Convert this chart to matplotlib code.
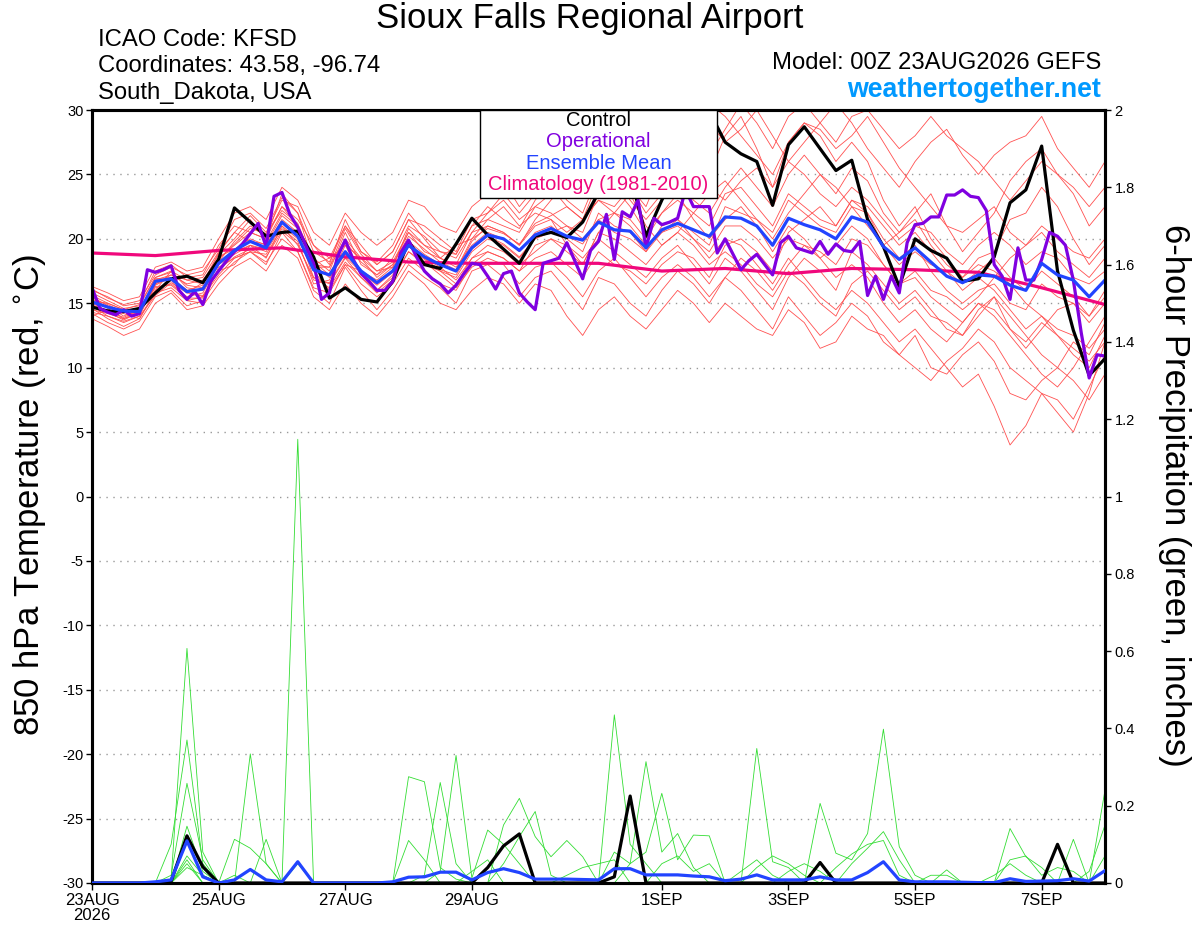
import numpy as np
import matplotlib
matplotlib.use('Agg')
import matplotlib.pyplot as plt
from matplotlib.patches import Rectangle

plt.rcParams['font.family'] = ['Liberation Sans', 'DejaVu Sans']
plt.rcParams['axes.unicode_minus'] = False

# forecast hours (6-hourly ensemble, 3-hourly operational, daily climatology)
hours = np.arange(0, 385, 6)
op_hours = np.arange(0, 385, 3)
clim_hours = np.arange(0, 385, 24)

# control run 850 hPa temperature
control_t = [14.7, 14.4, 14.35, 14.6, 15.8, 16.9, 17.1, 16.6, 18.4, 22.4, 21.3, 20.2, 20.5,
             20.6, 18.6, 15.4, 16.2, 15.3, 15.1, 16.7, 19.8, 18.0, 17.7, 19.6, 21.6, 20.3,
             19.2, 18.1, 20.2, 20.5, 20.1, 21.3, 23.6, 26.0, 25.0, 20.2, 23.0, 25.5, 28.0,
             29.9, 27.5, 26.6, 26.0, 22.6, 27.3, 28.7, 27.0, 25.3, 26.1, 21.5, 19.4, 16.3,
             20.0, 19.1, 18.5, 16.7, 16.9, 18.6, 22.8, 23.8, 27.2, 17.5, 12.9, 9.4, 10.7]

# ensemble mean 850 hPa temperature
mean_t = [15.1, 14.7, 14.4, 14.35, 16.7, 16.9, 15.9, 16.1, 18.1, 19.1, 19.8, 19.3, 21.3,
          20.2, 17.6, 17.2, 19.0, 17.5, 16.6, 17.5, 19.5, 18.6, 18.0, 17.5, 19.3, 20.3,
          20.0, 19.1, 20.3, 20.8, 20.2, 19.9, 21.3, 20.7, 20.6, 19.3, 20.7, 21.2, 20.7,
          20.2, 21.7, 21.6, 21.0, 19.5, 21.6, 21.1, 20.7, 20.0, 21.7, 21.3, 19.4, 18.4,
          19.3, 18.2, 17.1, 16.6, 17.2, 17.1, 16.4, 16.0, 18.1, 17.2, 16.8, 15.5, 16.8]

# operational run (3-hourly)
oper_t = [16.2, 14.6, 14.3, 14.1, 14.5, 14.0, 14.2, 17.6, 17.4, 17.6, 17.9, 16.0, 15.3,
          15.9, 14.9, 16.7, 17.5, 18.3, 19.0, 19.6, 20.4, 21.2, 19.4, 23.3, 23.6, 21.9,
          20.9, 19.5, 18.1, 15.3, 15.8, 18.6, 19.9, 18.4, 17.3, 16.7, 16.0, 16.0, 16.7,
          18.9, 19.9, 18.6, 17.5, 16.9, 16.5, 15.8, 16.4, 17.3, 18.1, 18.0, 17.1, 16.1,
          17.3, 17.5, 15.8, 15.1, 14.5, 18.1, 18.3, 18.5, 19.7, 18.3, 16.9, 19.1, 19.8,
          21.9, 18.4, 22.1, 21.7, 23.0, 19.3, 21.6, 21.1, 21.3, 21.6, 23.8, 22.5, 22.5,
          22.5, 18.9, 20.0, 18.8, 17.6, 18.3, 18.8, 18.0, 17.2, 19.7, 20.2, 19.3, 19.1,
          18.9, 19.8, 18.8, 19.6, 19.1, 19.0, 19.8, 15.6, 17.1, 15.3, 17.1, 15.8, 19.7,
          21.1, 21.2, 21.7, 21.7, 23.4, 23.4, 23.8, 23.3, 23.2, 22.2, 18.0, 17.1, 15.3,
          19.3, 16.8, 16.8, 18.4, 20.5, 20.2, 19.5, 16.8, 12.7, 9.2, 11.0, 10.9]

# climatology (1981-2010), daily
clim_t = [18.9, 18.7, 19.1, 19.3, 18.6, 18.2, 18.1, 18.1, 18.1, 17.5, 17.7, 17.3, 17.7,
          17.6, 17.4, 16.2, 14.9]

# ensemble members 850 hPa temperature
members_t = [
    [15.5, 14.8, 14.0, 14.6, 16.0, 17.5, 16.8, 16.5, 18.8, 20.0, 21.5, 19.8, 22.0, 21.0, 18.5, 17.5,
     20.5, 18.0, 17.2, 18.5, 21.0, 20.2, 19.0, 18.8, 21.0, 22.5, 21.5, 20.8, 23.0, 24.5, 23.0, 22.0,
     25.0, 26.5, 24.0, 22.5, 25.5, 27.0, 26.0, 25.0, 28.0, 29.5, 27.0, 24.0, 27.5, 29.0, 28.0, 26.0,
     27.5, 26.0, 23.0, 21.0, 22.5, 20.0, 18.5, 17.0, 18.5, 19.0, 21.5, 22.0, 24.0, 22.5, 20.0, 18.0, 19.5],
    [14.2, 13.5, 13.0, 13.6, 15.5, 16.0, 14.8, 15.2, 17.0, 18.2, 19.0, 18.0, 20.5, 19.0, 16.0, 15.0,
     17.8, 16.0, 14.5, 16.0, 18.0, 17.0, 16.2, 15.0, 17.5, 18.0, 17.0, 15.5, 17.0, 17.5, 16.0, 14.5,
     17.0, 16.5, 15.0, 14.0, 16.0, 17.5, 16.5, 15.0, 17.0, 16.0, 14.5, 13.0, 15.5, 14.0, 12.5, 13.5,
     15.0, 14.0, 12.0, 11.0, 12.5, 10.0, 9.5, 11.0, 12.0, 10.5, 8.0, 7.5, 9.0, 10.0, 12.0, 11.0, 13.5],
    [16.0, 15.5, 14.8, 15.0, 17.5, 18.0, 17.0, 17.2, 19.5, 21.0, 20.5, 20.0, 23.5, 22.0, 18.0, 18.5,
     21.0, 19.5, 18.0, 19.0, 21.5, 20.0, 18.5, 19.5, 20.0, 21.5, 22.5, 21.0, 22.0, 21.5, 19.5, 18.0,
     20.5, 22.0, 23.5, 21.0, 19.5, 20.5, 22.0, 23.5, 24.5, 23.0, 21.5, 20.0, 22.0, 23.5, 25.0, 24.0,
     22.5, 21.0, 19.5, 20.5, 22.0, 23.5, 21.0, 19.0, 20.5, 22.0, 24.5, 26.0, 27.0, 25.0, 23.5, 21.0, 22.5],
    [14.8, 14.0, 13.5, 14.0, 16.5, 17.0, 16.0, 15.5, 17.5, 19.0, 19.5, 18.5, 21.0, 19.5, 17.0, 16.5,
     18.5, 17.0, 16.0, 17.0, 19.0, 18.0, 17.5, 16.5, 18.5, 19.5, 19.0, 18.0, 19.0, 20.0, 19.5, 18.5,
     20.0, 19.0, 18.0, 17.0, 18.5, 19.5, 18.0, 16.5, 18.5, 17.5, 16.0, 14.5, 17.0, 18.5, 17.5, 16.0,
     19.0, 18.0, 16.5, 15.0, 16.0, 14.5, 13.0, 12.5, 14.0, 15.5, 13.0, 11.5, 13.0, 14.5, 15.0, 13.5, 15.0],
    [15.2, 15.0, 14.5, 14.2, 16.8, 17.2, 16.5, 16.8, 18.5, 19.5, 20.5, 20.0, 22.5, 21.5, 19.5, 18.5,
     19.5, 18.5, 17.0, 18.0, 20.5, 19.5, 18.5, 18.0, 20.5, 21.0, 20.5, 19.5, 21.5, 23.0, 24.5, 26.0,
     27.5, 28.5, 26.5, 25.0, 27.0, 29.5, 30.5, 29.0, 27.5, 28.5, 30.0, 28.0, 26.0, 27.5, 29.0, 30.5,
     29.0, 27.0, 25.5, 24.0, 26.0, 27.5, 28.5, 26.5, 25.0, 26.5, 27.5, 28.0, 29.5, 27.0, 25.5, 24.0, 26.0],
    [14.5, 14.2, 13.8, 14.4, 16.2, 16.5, 15.5, 15.8, 18.0, 18.8, 19.5, 19.0, 21.0, 20.0, 17.5, 16.0,
     18.0, 17.5, 16.5, 17.5, 19.5, 18.5, 17.5, 17.0, 19.0, 20.0, 19.5, 18.5, 20.0, 20.5, 21.0, 20.0,
     21.5, 22.0, 21.0, 19.5, 20.5, 21.5, 20.0, 18.5, 20.0, 19.5, 18.0, 16.5, 18.5, 17.0, 15.5, 14.5,
     16.0, 15.0, 13.5, 12.0, 13.0, 11.5, 10.0, 8.5, 9.5, 7.0, 4.0, 5.5, 8.0, 7.5, 6.0, 8.5, 11.0],
    [15.8, 15.2, 14.6, 14.8, 17.0, 17.5, 16.2, 16.0, 18.2, 19.8, 21.0, 20.2, 22.5, 21.0, 18.0, 17.8,
     20.0, 18.5, 17.5, 18.2, 20.5, 19.0, 18.5, 17.8, 19.5, 20.5, 20.0, 19.0, 20.5, 21.0, 20.0, 19.0,
     22.0, 21.0, 20.5, 19.0, 21.0, 21.5, 20.5, 19.5, 22.5, 22.0, 21.5, 20.5, 23.0, 22.0, 21.0, 20.5,
     22.5, 22.0, 20.0, 18.5, 19.5, 17.5, 16.0, 15.0, 16.0, 16.5, 15.0, 14.5, 16.5, 15.5, 15.0, 14.0, 15.5],
    [13.8, 13.2, 12.5, 13.0, 15.0, 15.8, 14.5, 14.8, 16.5, 17.8, 18.5, 17.5, 19.5, 18.5, 15.5, 14.5,
     16.5, 15.0, 14.0, 15.5, 17.5, 16.5, 15.0, 14.5, 16.0, 17.0, 16.5, 15.0, 16.5, 16.0, 14.0, 12.5,
     14.5, 15.5, 14.0, 13.0, 14.5, 16.0, 15.0, 13.5, 15.0, 14.0, 13.0, 12.5, 14.5, 13.5, 11.5, 12.0,
     14.0, 13.0, 12.5, 11.0, 10.0, 9.0, 10.5, 11.5, 13.0, 12.0, 10.0, 9.0, 8.0, 6.5, 5.0, 8.0, 12.0],
    [16.3, 15.8, 15.2, 15.5, 17.8, 18.2, 17.5, 17.8, 20.0, 22.0, 22.5, 21.5, 24.0, 23.0, 20.5, 19.5,
     22.0, 20.5, 19.5, 20.5, 23.0, 22.5, 21.0, 20.5, 22.5, 23.5, 24.5, 22.5, 24.0, 25.5, 26.5, 27.5,
     28.5, 27.0, 25.5, 24.0, 26.5, 28.0, 29.0, 30.5, 29.5, 28.0, 26.5, 25.0, 27.5, 29.0, 28.5, 27.0,
     28.0, 29.5, 27.5, 25.5, 24.0, 22.5, 21.0, 20.5, 21.5, 22.5, 20.5, 19.5, 21.0, 20.0, 19.0, 18.5, 20.0],
    [14.0, 14.5, 14.2, 13.8, 16.0, 16.8, 15.2, 15.0, 17.8, 18.5, 19.0, 18.8, 20.8, 19.8, 16.5, 16.8,
     19.5, 17.2, 16.0, 17.2, 19.8, 18.8, 18.0, 17.5, 19.8, 21.0, 20.5, 19.5, 21.0, 21.5, 20.5, 21.5,
     23.0, 22.5, 24.0, 22.0, 23.5, 24.5, 23.0, 22.0, 24.0, 25.5, 24.0, 22.5, 25.0, 26.5, 25.0, 23.5,
     25.5, 24.5, 22.0, 20.5, 21.5, 19.5, 18.0, 17.0, 18.0, 17.5, 16.5, 15.0, 14.0, 13.0, 12.5, 11.5, 13.0],
    [15.5, 14.6, 13.8, 14.2, 16.4, 17.0, 16.0, 16.4, 18.6, 19.2, 20.0, 19.5, 21.5, 20.5, 18.0, 17.0,
     18.8, 17.5, 16.8, 17.8, 19.5, 18.5, 17.8, 16.8, 18.5, 19.0, 18.5, 17.5, 18.5, 19.0, 18.0, 17.0,
     19.0, 18.0, 17.5, 16.5, 18.0, 19.0, 18.5, 17.0, 19.5, 20.0, 19.0, 17.5, 20.5, 21.5, 22.5, 21.0,
     23.0, 22.0, 19.5, 18.0, 19.0, 18.0, 17.5, 16.0, 17.0, 16.0, 14.5, 13.0, 14.0, 12.5, 11.0, 10.0, 12.5],
    [15.0, 14.4, 13.9, 14.5, 16.5, 17.2, 16.8, 17.0, 19.0, 20.5, 21.8, 20.5, 23.0, 22.5, 19.5, 18.0,
     21.5, 19.0, 18.0, 19.0, 21.5, 21.0, 20.0, 19.0, 21.5, 22.0, 23.5, 22.0, 23.5, 24.0, 22.5, 21.5,
     24.5, 26.0, 27.5, 26.0, 28.0, 29.0, 27.5, 26.5, 28.5, 30.5, 29.0, 27.0, 29.5, 30.5, 29.0, 27.5,
     29.5, 30.0, 28.5, 27.0, 28.0, 29.5, 28.0, 27.0, 26.0, 24.5, 23.0, 24.5, 26.0, 25.0, 24.0, 22.5, 24.0],
    [14.6, 13.8, 13.2, 13.8, 15.8, 16.2, 15.2, 15.5, 17.2, 18.5, 19.0, 18.2, 20.0, 19.0, 16.2, 15.8,
     18.0, 16.5, 15.5, 16.5, 18.5, 17.5, 16.5, 16.0, 18.0, 19.0, 18.5, 17.5, 19.5, 20.0, 19.0, 18.0,
     20.5, 20.0, 19.0, 18.0, 19.5, 20.5, 19.5, 18.0, 19.0, 18.0, 16.5, 15.5, 17.5, 16.5, 15.0, 14.0,
     16.5, 17.5, 16.0, 14.5, 15.5, 14.0, 13.5, 12.5, 14.5, 15.5, 14.0, 12.5, 11.0, 10.0, 9.0, 7.5, 9.5],
    [16.1, 15.4, 14.9, 15.2, 17.2, 17.8, 17.2, 17.5, 19.2, 21.5, 22.0, 20.8, 23.2, 22.0, 19.0, 18.2,
     21.0, 19.0, 18.2, 19.5, 22.0, 20.5, 19.5, 18.8, 21.0, 21.5, 21.0, 20.5, 22.5, 22.0, 21.0, 20.5,
     23.5, 24.5, 23.0, 21.5, 23.0, 24.5, 25.5, 24.0, 23.0, 24.5, 25.5, 24.0, 26.0, 25.0, 23.5, 22.5,
     24.0, 23.0, 21.5, 20.0, 21.0, 20.5, 19.0, 18.0, 19.5, 20.5, 19.5, 18.0, 19.0, 18.5, 17.0, 16.5, 17.5],
    [14.3, 14.0, 13.6, 14.0, 15.6, 16.6, 15.8, 15.6, 17.5, 18.0, 19.5, 19.2, 21.2, 20.5, 17.0, 16.2,
     18.2, 17.0, 15.8, 16.8, 19.0, 18.2, 17.2, 16.2, 17.8, 18.5, 18.0, 16.5, 17.8, 18.2, 17.0, 15.5,
     17.5, 18.5, 17.0, 15.5, 17.0, 18.0, 17.0, 15.5, 17.0, 18.5, 17.5, 16.0, 18.0, 19.5, 18.5, 17.0,
     18.0, 17.0, 15.0, 13.5, 14.5, 13.0, 12.0, 13.5, 15.0, 14.0, 12.5, 11.0, 9.5, 8.5, 10.0, 12.0, 14.0],
    [15.6, 15.0, 14.5, 14.9, 17.0, 17.4, 16.4, 16.2, 18.4, 19.6, 20.8, 20.4, 22.2, 21.2, 18.2, 17.2,
     19.8, 18.2, 17.2, 18.0, 20.2, 19.2, 18.2, 17.6, 20.0, 20.8, 20.4, 19.6, 21.2, 21.8, 22.5, 21.5,
     23.0, 22.0, 21.5, 20.0, 22.0, 23.0, 22.0, 21.0, 23.5, 24.0, 22.5, 21.0, 23.5, 22.5, 21.5, 21.0,
     23.0, 22.5, 21.0, 19.5, 20.5, 19.0, 17.5, 16.5, 17.5, 18.5, 17.0, 16.0, 17.5, 16.5, 15.5, 14.0, 16.0],
    [15.3, 14.9, 14.3, 14.1, 16.9, 17.0, 15.8, 16.6, 18.9, 20.5, 19.8, 19.6, 21.8, 20.8, 17.8, 17.8,
     20.8, 18.8, 17.5, 17.8, 20.8, 19.5, 19.0, 18.5, 20.5, 22.0, 23.0, 21.5, 22.5, 23.5, 25.0, 24.5,
     25.5, 24.0, 22.5, 20.5, 22.0, 23.5, 21.5, 20.0, 21.5, 22.5, 21.0, 19.0, 21.0, 20.0, 18.5, 19.5,
     21.0, 20.0, 18.0, 16.5, 17.5, 16.0, 15.5, 14.5, 15.5, 17.0, 18.5, 19.5, 20.5, 19.0, 18.0, 17.0, 18.5],
    [14.9, 14.3, 13.7, 14.3, 16.3, 16.4, 15.4, 15.4, 17.6, 18.6, 19.2, 18.6, 20.6, 19.6, 16.8, 16.6,
     18.6, 17.4, 16.4, 17.4, 19.4, 18.4, 17.6, 17.2, 19.2, 20.2, 19.6, 18.6, 20.0, 20.8, 20.2, 19.6,
     21.5, 20.5, 20.0, 19.0, 20.5, 21.0, 20.0, 19.0, 21.0, 21.0, 20.0, 18.5, 20.0, 19.5, 19.0, 18.0,
     20.0, 19.5, 18.0, 16.5, 17.0, 15.5, 14.5, 13.5, 15.0, 14.5, 13.0, 12.0, 13.5, 12.5, 11.5, 10.5, 12.0],
]

# 6-hour precipitation (inches): control and ensemble mean
control_p = [0, 0, 0, 0, 0, 0.005, 0.122, 0.042, 0, 0, 0, 0, 0, 0, 0, 0, 0, 0, 0, 0, 0, 0,
             0, 0, 0, 0.04, 0.096, 0.127, 0, 0, 0, 0, 0, 0.016, 0.225, 0, 0, 0, 0, 0, 0, 0,
             0, 0, 0, 0, 0.053, 0, 0, 0, 0, 0, 0, 0, 0, 0, 0, 0, 0, 0, 0, 0.1, 0, 0, 0]
mean_p = [0, 0, 0, 0, 0.003, 0.008, 0.109, 0.016, 0, 0.008, 0.035, 0.008, 0.003, 0.055, 0,
          0, 0, 0, 0, 0.003, 0.015, 0.016, 0.028, 0.028, 0.008, 0.027, 0.037, 0.027, 0.01,
          0.01, 0.01, 0.009, 0.008, 0.037, 0.037, 0.021, 0.021, 0.021, 0.018, 0.016, 0.006,
          0.01, 0.021, 0.008, 0.008, 0.008, 0.016, 0.008, 0.008, 0.027, 0.055, 0.008, 0.003,
          0.003, 0.003, 0.002, 0.001, 0.001, 0.011, 0.004, 0.005, 0.006, 0.011, 0.005, 0.032]

# member precipitation, non-zero 6-hour steps only
members_p = [
    {5: 0.10, 6: 0.37, 7: 0.05},
    {5: 0.01, 6: 0.607, 7: 0.08},
    {5: 0.02, 6: 0.258, 7: 0.06},
    {6: 0.147, 7: 0.03, 9: 0.113, 10: 0.09, 11: 0.05},
    {6: 0.07, 7: 0.02, 10: 0.334, 11: 0.05},
    {6: 0.06, 9: 0.02, 11: 0.113, 13: 0.05},
    {6: 0.05, 13: 1.148},
    {6: 0.04, 7: 0.02, 20: 0.275, 21: 0.262, 22: 0.04, 23: 0.01, 26: 0.05, 27: 0.12, 28: 0.185, 29: 0.02},
    {21: 0.02, 22: 0.26, 23: 0.05, 26: 0.15, 27: 0.219, 28: 0.12, 29: 0.068, 30: 0.11, 31: 0.068},
    {22: 0.03, 23: 0.33, 24: 0.013, 25: 0.137, 26: 0.10, 27: 0.05, 33: 0.435, 34: 0.1, 35: 0.05},
    {20: 0.11, 21: 0.06, 24: 0.03, 25: 0.06, 33: 0.08, 34: 0.05, 35: 0.314, 36: 0.08, 37: 0.128, 38: 0.04},
    {34: 0.05, 35: 0.08, 36: 0.232, 37: 0.06, 38: 0.124, 39: 0.122, 42: 0.348, 43: 0.055, 44: 0.04},
    {41: 0.03, 42: 0.06, 43: 0.02, 46: 0.206, 47: 0.077, 48: 0.06, 49: 0.128, 50: 0.398, 51: 0.094, 52: 0.02},
    {42: 0.04, 43: 0.07, 44: 0.05, 45: 0.02, 48: 0.05, 49: 0.09, 50: 0.133, 51: 0.06, 54: 0.034,
     58: 0.141, 59: 0.068, 60: 0.04, 62: 0.113, 64: 0.24},
    {47: 0.04, 48: 0.075, 49: 0.10, 50: 0.11, 51: 0.02, 53: 0.02, 54: 0.02, 58: 0.06, 59: 0.07,
     60: 0.02, 61: 0.04, 62: 0.03, 64: 0.07},
    {30: 0.02, 31: 0.04, 32: 0.05, 33: 0.06, 36: 0.05, 37: 0.07, 38: 0.03, 39: 0.05, 44: 0.03,
     45: 0.05, 46: 0.03, 57: 0.02, 58: 0.05, 59: 0.02, 63: 0.03, 64: 0.15},
]

tick_hours = [0, 48, 96, 144, 216, 264, 312, 360]
tick_labels = ['23AUG\n2026', '25AUG', '27AUG', '29AUG', '1SEP', '3SEP', '5SEP', '7SEP']
precip_ticks = [0, 0.2, 0.4, 0.6, 0.8, 1, 1.2, 1.4, 1.6, 1.8, 2]
precip_labels = ['0', '0.2', '0.4', '0.6', '0.8', '1', '1.2', '1.4', '1.6', '1.8', '2']

legend_items = [('Control', 'black'), ('Operational', '#8000e0'),
                ('Ensemble Mean', '#2244ff'), ('Climatology (1981-2010)', '#f0087c')]

fig = plt.figure(figsize=(12, 9.27), dpi=100)
ax = fig.add_axes([92 / 1200, 1 - 883 / 927, 1013 / 1200, 773 / 927])

for m in members_t:
    ax.plot(hours, m, color='#ff5050', lw=0.6, zorder=2)
ax.plot(clim_hours, clim_t, color='#f0087c', lw=2.3, zorder=3)
ax.plot(hours, control_t, color='black', lw=2.3, zorder=4)
ax.plot(op_hours, oper_t, color='#8000e0', lw=2.3, zorder=5)
ax.plot(hours, mean_t, color='#2244ff', lw=2.3, zorder=6)

ax.set_xlim(0, 384)
ax.set_ylim(-30, 30)
ax.set_yticks(range(-30, 31, 5))
ax.yaxis.grid(True, linestyle=(0, (1, 4)), color='#999999', lw=1)
ax.set_xticks(tick_hours)
ax.set_xticklabels(tick_labels, fontsize=12, linespacing=1.05)
ax.tick_params(axis='y', labelsize=10.5, length=4, width=1, pad=2)
ax.tick_params(axis='x', length=5, width=1, pad=2)
for s in ax.spines.values():
    s.set_linewidth(2.2)

ax2 = ax.twinx()
for mp in members_p:
    vals = [mp.get(i, 0.0) for i in range(len(hours))]
    ax2.plot(hours, vals, color='#33dd33', lw=0.6, zorder=2)
ax2.plot(hours, control_p, color='black', lw=2.3, zorder=4)
ax2.plot(hours, mean_p, color='#2244ff', lw=2.3, zorder=5)
ax2.set_ylim(0, 2)
ax2.set_yticks(precip_ticks)
ax2.set_yticklabels(precip_labels)
ax2.tick_params(axis='y', labelsize=10.5, length=4, width=1, pad=3)
for s in ax2.spines.values():
    s.set_linewidth(2.2)

# legend box drawn as plain colored text lines
x0 = (480 - 92) / 1013
x1 = (717 - 92) / 1013
y0 = (883 - 198) / 773
ax2.add_patch(Rectangle((x0, y0), x1 - x0, 1 - y0, transform=ax2.transAxes,
                        facecolor='white', edgecolor='black', lw=1, zorder=10, clip_on=False))
for k, (txt, col) in enumerate(legend_items):
    ax2.text((x0 + x1) / 2, (883 - 120 - 21.5 * k) / 773, txt, color=col, fontsize=14.5,
             ha='center', va='center', transform=ax2.transAxes, zorder=11)

fig.text(0.4917, 0.980, 'Sioux Falls Regional Airport', fontsize=25, ha='center', va='center')
fig.text(0.0817, 0.957, 'ICAO Code: KFSD', fontsize=17.2, ha='left', va='center')
fig.text(0.0817, 0.929, 'Coordinates: 43.58, -96.74', fontsize=17.2, ha='left', va='center')
fig.text(0.0817, 0.900, 'South_Dakota, USA', fontsize=17.2, ha='left', va='center')
fig.text(0.9175, 0.932, 'Model: 00Z 23AUG2026 GEFS', fontsize=17.2, ha='right', va='center')
fig.text(0.9175, 0.903, 'weathertogether.net', fontsize=19.3, fontweight='bold',
         color='#0099ff', ha='right', va='center')
fig.text(0.025, 0.466, r'850 hPa Temperature (red, $^{\circ}$C)', fontsize=25,
         rotation=90, ha='center', va='center')
fig.text(0.979, 0.466, '6-hour Precipitation (green, inches)', fontsize=25,
         rotation=-90, ha='center', va='center')

fig.savefig('out.png', dpi=100)
